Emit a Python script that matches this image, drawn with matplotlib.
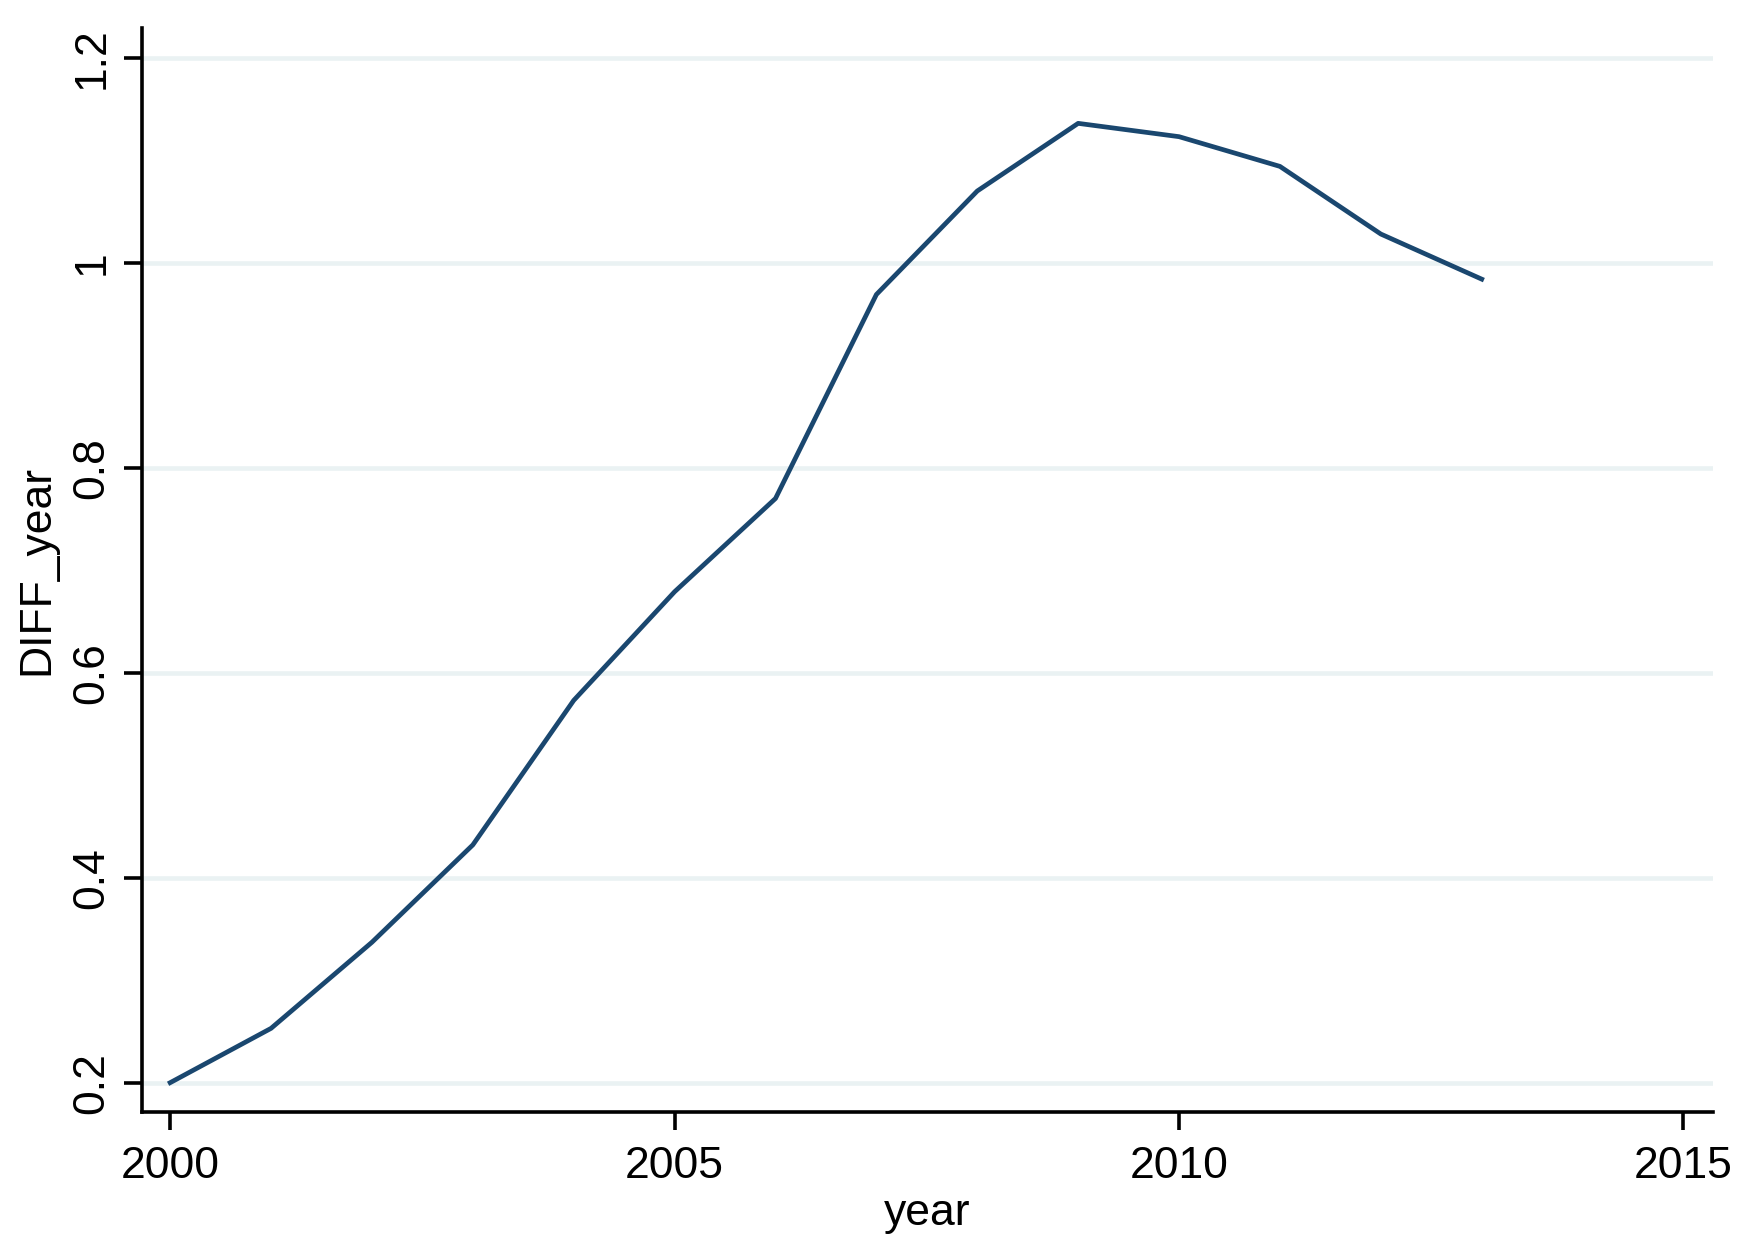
import matplotlib
matplotlib.use('Agg')
import matplotlib.pyplot as plt

# values
years = [2000, 2001, 2002, 2003, 2004, 2005, 2006, 2007, 2008, 2009, 2010, 2011, 2012, 2013]
diff_year = [0.200, 0.253, 0.337, 0.432, 0.573, 0.679, 0.770, 0.969, 1.070, 1.136, 1.123, 1.094, 1.028, 0.984]
x_ticks = [2000, 2005, 2010, 2015]
y_ticks = [0.2, 0.4, 0.6, 0.8, 1.0, 1.2]
y_tick_labels = ['0.2', '0.4', '0.6', '0.8', '1', '1.2']

plt.rcParams['font.family'] = ['Liberation Sans', 'DejaVu Sans']

fig = plt.figure(figsize=(17.52, 12.46), dpi=100)
ax = fig.add_axes([0.081, 0.1078, 0.8966, 0.8697])

# Stata-like look: light horizontal grid, only left and bottom axes
for y in y_ticks:
    ax.axhline(y, color='#eaf2f3', lw=3.3, zorder=0)

ax.plot(years, diff_year, color='#1a476f', lw=3.4, zorder=3)

ax.set_xlim(1999.72, 2015.29)
ax.set_ylim(0.1717, 1.229)
ax.set_xticks(x_ticks)
ax.set_yticks(y_ticks)
ax.set_yticklabels(y_tick_labels, rotation=90, va='center')

for side in ['top', 'right']:
    ax.spines[side].set_visible(False)
for side in ['left', 'bottom']:
    ax.spines[side].set_linewidth(2.6)

ax.tick_params(axis='both', length=13, width=2.6, labelsize=32, color='black')
ax.tick_params(axis='x', pad=12)
ax.tick_params(axis='y', pad=8)

ax.set_xlabel('year', fontsize=32, labelpad=4)
ax.set_ylabel('DIFF_year', fontsize=32, labelpad=10)

plt.savefig('out.png', dpi=100)
